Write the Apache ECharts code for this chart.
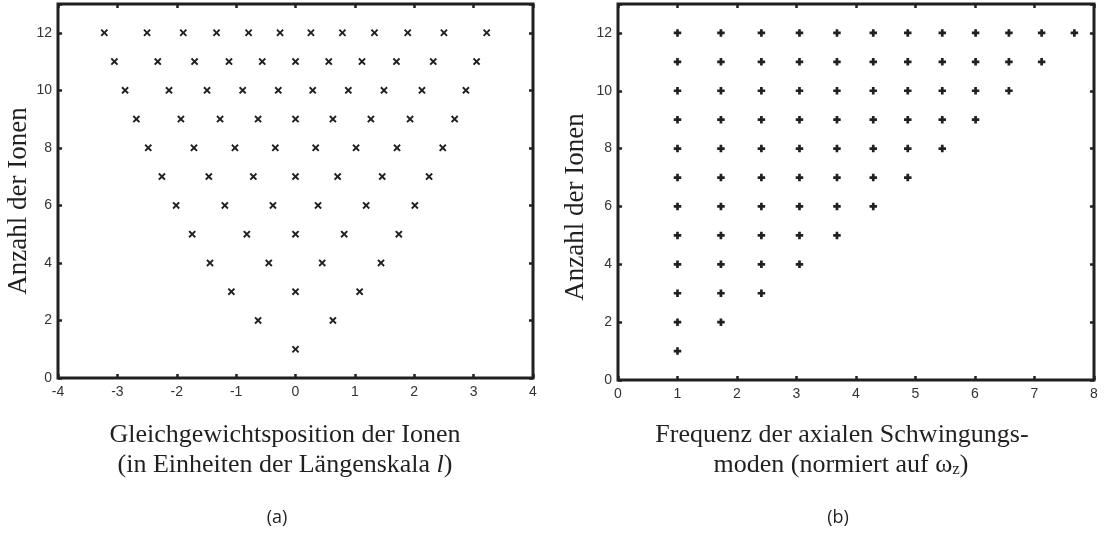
<!DOCTYPE html>
<html>
<head>
<meta charset="utf-8">
<style>
  html, body { margin: 0; padding: 0; background: #fff; }
  #chart { width: 1107px; height: 545px; }
</style>
<script src="https://cdn.jsdelivr.net/npm/echarts@6/dist/echarts.min.js"></script>
</head>
<body>
<div id="chart"></div>
<script>
// Number of ions in the linear chain (rows of both panels)
const ionCounts = [1, 2, 3, 4, 5, 6, 7, 8, 9, 10, 11, 12];

// Equilibrium positions of the ions for each chain length (units of length scale l)
const equilibriumPositions = [
  [0],
  [-0.63, 0.63],
  [-1.08, 0, 1.08],
  [-1.44, -0.45, 0.45, 1.44],
  [-1.74, -0.82, 0, 0.82, 1.74],
  [-2.01, -1.19, -0.38, 0.38, 1.19, 2.01],
  [-2.25, -1.46, -0.71, 0, 0.71, 1.46, 2.25],
  [-2.48, -1.71, -1.02, -0.34, 0.34, 1.02, 1.71, 2.48],
  [-2.68, -1.93, -1.27, -0.63, 0, 0.63, 1.27, 1.93, 2.68],
  [-2.87, -2.13, -1.49, -0.89, -0.29, 0.29, 0.89, 1.49, 2.13, 2.87],
  [-3.05, -2.32, -1.70, -1.12, -0.56, 0, 0.56, 1.12, 1.70, 2.32, 3.05],
  [-3.22, -2.50, -1.89, -1.33, -0.79, -0.26, 0.26, 0.79, 1.33, 1.89, 2.50, 3.22]
];

// Axial mode frequencies (normalised to omega_z), mode p exists for N >= p
const modeFrequencies = [1, 1.73, 2.41, 3.05, 3.68, 4.29, 4.87, 5.45, 6.01, 6.57, 7.12, 7.67];

// Tick values
const posTicks = [-4, -3, -2, -1, 0, 1, 2, 3, 4];
const freqTicks = [0, 1, 2, 3, 4, 5, 6, 7, 8];
const countTicks = [0, 2, 4, 6, 8, 10, 12];

// Build point lists from the arrays above
const positionPoints = [];
ionCounts.forEach(function (n, i) {
  equilibriumPositions[i].forEach(function (x) { positionPoints.push([x, n]); });
});
const modePoints = [];
ionCounts.forEach(function (n) {
  for (let p = 0; p < n; p++) modePoints.push([modeFrequencies[p], n]);
});

const ink = '#231f20';
const labelColor = '#333333';
const serif = '"Liberation Serif", "Times New Roman", serif';
const sans = '"Liberation Sans", Arial, sans-serif';

// Marker shapes: diagonal cross and bold plus
const crossSymbol = 'path://M0,1.8L1.8,0L5,3.2L8.2,0L10,1.8L6.8,5L10,8.2L8.2,10L5,6.8L1.8,10L0,8.2L3.2,5Z';
const plusSymbol = 'path://M3.2,0H6.8V3.2H10V6.8H6.8V10H3.2V6.8H0V3.2H3.2Z';

function valueAxisX(gridIndex, min, max, ticks, position, showLabels) {
  return {
    type: 'value', gridIndex: gridIndex, position: position,
    min: min, max: max, interval: 1,
    axisLine: { show: false, onZero: false },
    axisTick: { show: true, inside: true, length: 4, lineStyle: { color: ink, width: 2.5 } },
    axisLabel: {
      show: showLabels, color: labelColor, fontFamily: sans, fontSize: 14, margin: 7,
      formatter: function (v) { return ticks.indexOf(v) >= 0 ? String(v) : ''; }
    },
    splitLine: { show: false }
  };
}
function valueAxisY(gridIndex, position, showLabels) {
  return {
    type: 'value', gridIndex: gridIndex, position: position,
    min: 0, max: 13, interval: 2,
    axisLine: { show: false, onZero: false },
    axisTick: { show: true, inside: true, length: 4, lineStyle: { color: ink, width: 2.5 } },
    axisLabel: {
      show: showLabels, color: labelColor, fontFamily: sans, fontSize: 14, margin: 6,
      formatter: function (v) { return countTicks.indexOf(v) >= 0 ? String(v) : ''; }
    },
    splitLine: { show: false }
  };
}

const titleFont = '26px ' + serif;
const yTitleFont = '27px ' + serif;
const panelFont = '18px "Open Sans", ' + sans;

const chart = echarts.init(document.getElementById('chart'), null, { renderer: 'canvas' });
chart.setOption({
  backgroundColor: '#ffffff',
  animation: false,
  grid: [
    { left: 58, right: 574, top: 4, bottom: 167, show: true, borderColor: ink, borderWidth: 3, backgroundColor: 'transparent' },
    { left: 618, right: 13, top: 4, bottom: 165, show: true, borderColor: ink, borderWidth: 3, backgroundColor: 'transparent' }
  ],
  xAxis: [
    valueAxisX(0, -4, 4, posTicks, 'bottom', true),
    valueAxisX(0, -4, 4, posTicks, 'top', false),
    valueAxisX(1, 0, 8, freqTicks, 'bottom', true),
    valueAxisX(1, 0, 8, freqTicks, 'top', false)
  ],
  yAxis: [
    valueAxisY(0, 'left', true),
    valueAxisY(0, 'right', false),
    valueAxisY(1, 'left', true),
    valueAxisY(1, 'right', false)
  ],
  series: [
    {
      type: 'scatter', xAxisIndex: 0, yAxisIndex: 0,
      data: positionPoints, symbol: crossSymbol, symbolSize: 7.5,
      itemStyle: { color: ink, opacity: 1 }, silent: true
    },
    {
      type: 'scatter', xAxisIndex: 2, yAxisIndex: 2,
      data: modePoints, symbol: plusSymbol, symbolSize: 7.5,
      itemStyle: { color: ink, opacity: 1 }, silent: true
    }
  ],
  graphic: [
    { type: 'text', x: 19, y: 201, rotation: Math.PI / 2, style: { text: 'Anzahl der Ionen', font: yTitleFont, fill: ink, textAlign: 'center', textVerticalAlign: 'middle' } },
    { type: 'text', x: 576, y: 207, rotation: Math.PI / 2, style: { text: 'Anzahl der Ionen', font: yTitleFont, fill: ink, textAlign: 'center', textVerticalAlign: 'middle' } },
    { type: 'text', x: 285, y: 435, style: { text: 'Gleichgewichtsposition der Ionen', font: titleFont, fill: ink, textAlign: 'center', textVerticalAlign: 'middle' } },
    { type: 'text', x: 285, y: 465, style: { rich: {
        n: { font: titleFont, fill: ink },
        i: { font: 'italic ' + titleFont, fill: ink }
      }, text: '{n|(in Einheiten der Längenskala }{i|l}{n|)}', textAlign: 'center', textVerticalAlign: 'middle' } },
    { type: 'text', x: 842, y: 435, style: { text: 'Frequenz der axialen Schwingungs-', font: titleFont, fill: ink, textAlign: 'center', textVerticalAlign: 'middle' } },
    { type: 'text', x: 841, y: 465, style: { rich: {
        n: { font: titleFont, fill: ink },
        s: { font: '17px ' + serif, fill: ink, verticalAlign: 'bottom' }
      }, text: '{n|moden (normiert auf ω}{s|z}{n|)}', textAlign: 'center', textVerticalAlign: 'middle' } },
    { type: 'text', x: 277, y: 518, style: { text: '(a)', font: panelFont, fill: ink, textAlign: 'center', textVerticalAlign: 'middle' } },
    { type: 'text', x: 838, y: 518, style: { text: '(b)', font: panelFont, fill: ink, textAlign: 'center', textVerticalAlign: 'middle' } }
  ]
});
</script>
</body>
</html>
